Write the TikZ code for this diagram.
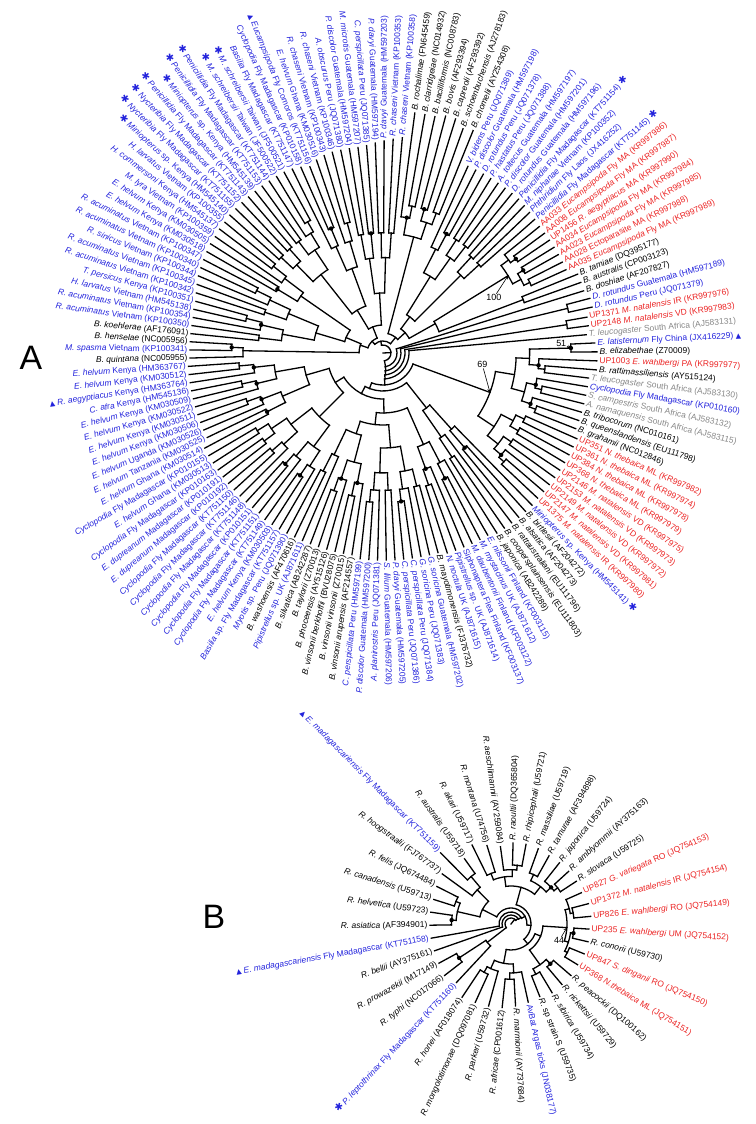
\documentclass[tikz,border=0pt]{standalone}
\usepackage{fontspec}
\setmainfont{Liberation Sans}
\newfontfamily\symf{DejaVu Sans}
\usetikzlibrary{arrows, positioning}

\definecolor{bblue}{RGB}{35,35,220}
\definecolor{bred}{RGB}{235,35,35}
\definecolor{bgrey}{RGB}{135,135,135}

\newcommand{\taxon}[1]{\textit{#1}}
\newcommand{\astr}{{\symf\fontsize{10}{10}\selectfont ✱}}
\newcommand{\trig}{{\symf\fontsize{7}{7}\selectfont ▲}}
\newcommand{\treeset}[2]{\expandafter\xdef\csname #1\endcsname{#2}}

\tikzstyle{arrow} = [semithick,->,>=stealth]

% one tip: panel, index, radius, colour, text
\newcommand{\leaf}[5]{%
  \edef\aO{\csname a0-#1\endcsname}\edef\aD{\csname da-#1\endcsname}%
  \pgfmathsetmacro{\ang}{\aO-\aD*(#2-1)}%
  \treeset{r-#1-#2}{#3}%
  \pgfmathsetmacro{\rl}{#3+2.5}%
  \pgfmathtruncatemacro{\lft}{or(\ang>90,\ang<-90)}%
  \ifnum\lft=1 \pgfmathsetmacro{\rot}{\ang+180}\def\anc{east}%
  \else \let\rot\ang\def\anc{west}\fi
  \node[tip, text=#4, anchor=\anc, rotate=\rot] (#1#2) at (\ang:\rl) {#5};}

% clade over tips #2..#3, stem from radius #4 to node radius #5
\newcommand{\clade}[5]{%
  \begingroup
  \edef\pf{#1}\edef\cf{#2}\edef\cl{#3}\edef\rp{#4}\edef\rn{#5}%
  \edef\aO{\csname a0-\pf\endcsname}\edef\aD{\csname da-\pf\endcsname}%
  \edef\aC{\csname cap-\pf\endcsname}%
  \pgfmathsetmacro{\am}{\aO-\aD*((\cf+\cl)/2-1)}%
  \ifnum\cf=\cl\relax
    \edef\rt{\csname r-\pf-\cf\endcsname}%
    \draw[branch] (\am:\rp) -- (\am:\rt);%
  \else
    \draw[branch] (\am:\rp) -- (\am:\rn);%
    \ifcsname s-\pf-\cf-\cl\endcsname
      \edef\cs{\csname s-\pf-\cf-\cl\endcsname}%
    \else
      \pgfmathtruncatemacro{\cs}{(\cf+\cl-1)/2}%
    \fi
    \pgfmathtruncatemacro{\cn}{\cs+1}%
    \pgfmathsetmacro{\al}{\aO-\aD*((\cf+\cs)/2-1)}%
    \pgfmathsetmacro{\ar}{\aO-\aD*((\cn+\cl)/2-1)}%
    \draw[branch] (\al:\rn) arc[start angle=\al, end angle=\ar, radius=\rn];%
    \pgfmathtruncatemacro{\sz}{\cl-\cf}%
    \ifnum\sz<3 \ifcsname d-\pf-\cf\endcsname
      \fill (\am:\rn) circle[radius=2.2];\fi\fi
    \pgfmathsetmacro{\rd}{\rn+0.3*(\aC-\rn)}%
    \ifcsname n-\pf-\cf-\cs\endcsname\edef\rl{\csname n-\pf-\cf-\cs\endcsname}\else\edef\rl{\rd}\fi
    \ifcsname n-\pf-\cn-\cl\endcsname\edef\rr{\csname n-\pf-\cn-\cl\endcsname}\else\edef\rr{\rd}\fi
    \clade{\pf}{\cf}{\cs}{\rn}{\rl}%
    \clade{\pf}{\cn}{\cl}{\rn}{\rr}%
  \fi
  \endgroup}

% tree layout: start angle, angle step, radius cap, splits, node radii, dots
\foreach \k/\v in {%
a0-A/181.5,da-A/2.416,cap-A/178,a0-B/227,da-B/9.23,cap-B/70,%
s-A-1-149/68,n-A-1-68/12,n-A-69-149/14,%
s-A-69-149/69,n-A-70-149/18,%
s-A-70-149/71,n-A-70-71/190,n-A-72-149/22,%
s-A-72-149/73,n-A-72-73/186,n-A-74-149/26,%
s-A-74-149/74,n-A-75-149/32,%
s-A-75-149/94,n-A-75-94/114,n-A-95-149/38,%
s-A-75-94/85,n-A-75-76/188,%
s-A-95-149/100,n-A-95-100/70,n-A-101-149/46,%
s-A-101-149/125,n-A-101-125/60,n-A-126-149/56,%
s-A-101-125/106,n-A-101-106/100,n-A-107-125/72,%
s-A-107-125/116,n-A-107-116/95,n-A-117-125/85,%
s-A-117-125/122,%
s-A-126-149/138,n-A-126-138/90,n-A-139-149/80,%
s-A-1-68/41,n-A-1-41/16,n-A-42-68/20,%
s-A-42-68/48,n-A-42-48/120,n-A-49-68/30,%
s-A-49-68/59,n-A-49-59/45,n-A-60-68/60,%
s-A-49-59/55,n-A-49-55/90,n-A-56-59/110,%
s-A-60-68/66,n-A-60-66/147,n-A-67-68/150,%
s-A-1-41/18,n-A-1-18/24,n-A-19-41/28,%
s-A-1-18/3,n-A-1-3/140,n-A-4-18/40,%
s-A-4-18/13,n-A-4-13/70,n-A-14-18/100,%
s-A-19-41/33,n-A-19-33/50,n-A-34-41/60,%
s-A-19-33/27,n-A-19-27/100,n-A-28-33/90,%
s-B-1-39/3,n-B-1-3/30,n-B-4-39/9,%
s-B-1-3/1,n-B-2-3/62,%
s-B-4-39/4,n-B-5-39/12,%
s-B-5-39/5,n-B-6-39/16,%
s-B-6-39/12,n-B-6-12/32,n-B-13-39/20,%
s-B-6-12/9,n-B-6-9/55,n-B-10-12/48,%
s-B-10-12/10,n-B-11-12/62,%
s-B-13-39/22,n-B-13-22/38,n-B-23-39/26,%
s-B-23-39/33,n-B-23-33/32,n-B-34-39/40,%
s-B-23-33/29,n-B-23-29/56,n-B-30-33/50,%
d-A-2/1,d-A-6/1,d-A-10/1,d-A-14/1,d-A-20/1,d-A-22/1,d-A-24/1,d-A-27/1,%
d-A-29/1,d-A-33/1,d-A-36/1,d-A-39/1,d-A-42/1,d-A-45/1,d-A-50/1,d-A-53/1,%
d-A-57/1,d-A-61/1,d-A-63/1,d-A-75/1,d-A-77/1,d-A-80/1,d-A-83/1,d-A-87/1,%
d-A-89/1,d-A-92/1,d-A-96/1,d-A-102/1,d-A-104/1,d-A-108/1,d-A-110/1,%
d-A-113/1,d-A-117/1,d-A-120/1,d-A-127/1,d-A-130/1,d-A-134/1,d-A-139/1,%
d-A-141/1,d-A-144/1,d-A-147/1,%
d-B-2/1,d-B-6/1,d-B-20/1,d-B-26/1,d-B-30/1%
}{\treeset{\k}{\v}}

\begin{document}
\begin{tikzpicture}[
        x=1bp, y=1bp,
        branch/.style={line width=1.3bp, line cap=rect},
        tip/.style={font=\fontsize{8.5}{9}\selectfont, inner sep=0pt},
        num/.style={font=\fontsize{9}{10}\selectfont, inner sep=0.5pt},
        panel/.style={font=\fontsize{34}{34}\selectfont, inner sep=0pt}
    ]
    \useasboundingbox (0,0) rectangle (756,1124);

    % panel A
    \begin{scope}[shift={(383,771)}]
        \foreach \rad/\col/\txt [count=\i] in {
            193/black/{\taxon{B. quintana} (NC005955)},
            193/bblue/{\taxon{M. spasma} Vietnam (KP100341)},
            193/black/{\taxon{B. henselae} (NC005956)},
            193/black/{\taxon{B. koehlerae} (AF176091)},
            193/bblue/{\taxon{R. acuminatus} Vietnam (KP100350)},
            193/bblue/{\taxon{R. acuminatus} Vietnam (KP100354)},
            194/bblue/{\taxon{H. larvatus} Vietnam (HM545138)},
            194/bblue/{\taxon{T. persicus} Kenya (KP100351)},
            196/bblue/{\taxon{R. acuminatus} Vietnam (KP100342)},
            198/bblue/{\taxon{R. acuminatus} Vietnam (KP100345)},
            200/bblue/{\taxon{R. sinicus} Vietnam (KP100344)},
            201/bblue/{\taxon{R. acuminatus} Vietnam (KP100340)},
            202/bblue/{\taxon{R. acuminatus} Vietnam (KP100347)},
            203/bblue/{\taxon{E. helvum} Kenya (KM030518)},
            204/bblue/{\taxon{E. helvum} Kenya (KM030505)},
            204/bblue/{\taxon{M. lyra} Vietnam (KP100359)},
            205/bblue/{\taxon{H. commersoni} Kenya (HM545137)},
            205/bblue/{\taxon{H. larvatus} Vietnam (KP100355)},
            206/bblue/{\astr\ \taxon{Miniopterus} sp. Kenya (HM545140)},
            206/bblue/{\astr\ \taxon{Nycteribia} Fly Madagascar (KT751155)},
            206/bblue/{\astr\ \taxon{Nycteribia} Fly Madagascar (KT751152)},
            206/bblue/{\astr\ \taxon{Penicillidia} Fly Madagascar (KT751143)},
            206/bblue/{\astr\ \taxon{Miniopterus} sp. Kenya (HM545139)},
            206/bblue/{\astr\ \taxon{Penicillidia} Fly Madagascar (KT751153)},
            206/bblue/{\astr\ \taxon{Penicillidia} Fly Madagascar (KT751144)},
            206/bblue/{\astr\ \taxon{M. schreibersii} Taiwan (JF500522)},
            206/bblue/{\astr\ \taxon{M. schreibersii} Taiwan (JF500521)},
            205/bblue/{\taxon{Basilia} Fly Madagascar (KT751147)},
            203/bblue/{\taxon{Cyclopodia} Fly Madagascar (KP010158)},
            200/bblue/{\trig\ \taxon{Eucampsipoda} Fly Comoros (KT751156)},
            204/bblue/{\taxon{E. helvum} Ghana (KM030516)},
            206/bblue/{\taxon{R. chaseni} Vietnam (KP100343)},
            207/bblue/{\taxon{R. chaseni} Vietnam (KP100346)},
            207/bblue/{\taxon{A. obscurus} Peru (JQ071380)},
            207/bblue/{\taxon{P. discolor} Guatemala (HM597204)},
            207/bblue/{\taxon{M. microtis} Guatemala (HM597207)},
            208/bblue/{\taxon{C. perspicillata} Peru (JQ071385)},
            210/bblue/{\taxon{P. davyi} Guatemala (HM597194)},
            212/bblue/{\taxon{P. davyi} Guatemala (HM597203)},
            214/bblue/{\taxon{R. chaseni} Vietnam (KP100353)},
            216/bblue/{\taxon{R. chaseni} Vietnam (KP100358)},
            242/black/{\taxon{B. rochalimae} (FN645459)},
            242/black/{\taxon{B. clarridgeiae} (NC014932)},
            242/black/{\taxon{B. bacilliformis} (NC008783)},
            245/black/{\taxon{B. bovis} (AF293394)},
            245/black/{\taxon{B. capreoli} (AF293392)},
            238/black/{\taxon{B. schoenbuchensis} (AJ278183)},
            240/black/{\taxon{B. chomelii} (AY254308)},
            205/bblue/{\taxon{V. bidens} Peru (JQ071389)},
            205/bblue/{\taxon{P. discolor} Guatemala (HM597198)},
            205/bblue/{\taxon{D. rotundus} Peru (JQ071378)},
            205/bblue/{\taxon{P. hastatus} Peru (JQ071388)},
            205/bblue/{\taxon{A. toltecus} Guatemala (HM597197)},
            205/bblue/{\taxon{P. discolor} Guatemala (HM597201)},
            205/bblue/{\taxon{D. rotundus} Guatemala (HM597196)},
            205/bblue/{\taxon{Penicillidia} Fly Madagascar (KT751154) \astr},
            204/bblue/{\taxon{M. niphanae} Vietnam (KP100352)},
            203/bblue/{\taxon{Phthiridium} Fly Laos (JX416252)},
            202/bblue/{\taxon{Penicillidia} Fly Madagascar (KT751145) \astr},
            201/bred/{AA033 \taxon{Eucampsipoda} Fly MA (KR997986)},
            201/bred/{AA008 \taxon{Eucampsipoda} Fly MA (KR997987)},
            201/bred/{UP1456 \taxon{R. aegyptiacus} MA (KR997990)},
            201/bred/{AA034 \taxon{Eucampsipoda} Fly MA (KR997984)},
            201/bred/{AA023 \taxon{Eucampsipoda} Fly MA (KR997985)},
            201/bred/{AA028 Ectoparasite MA (KR997988)},
            201/bred/{AA035 \taxon{Eucampsipoda} Fly MA (KR997989)},
            210/black/{\taxon{B. tamiae} (DQ395177)},
            210/black/{\taxon{B. australis} (CP003123)},
            210/black/{\taxon{B. doshiae} (AF207827)},
            214/bblue/{\taxon{D. rotundus} Guatemala (HM597189)},
            214/bblue/{\taxon{D. rotundus} Peru (JQ071379)},
            207/bred/{UP1371 \taxon{M. natalensis} IR (KR997976)},
            207/bred/{UP2148 \taxon{M. natalensis} VD (KR997983)},
            204/bgrey/{\taxon{T. leucogaster} South Africa (AJ583131)},
            212/bblue/{\taxon{E. latisternum} Fly China (JX416229) \trig},
            214/black/{\taxon{B. elizabethae} (Z70009)},
            214/bred/{UP1003 \taxon{E. wahlbergi} PA (KR997977)},
            214/black/{\taxon{B. rattimassiliensis} (AY515124)},
            207/bgrey/{\taxon{T. leucogaster} South Africa (AJ583130)},
            207/bblue/{\taxon{Cyclopodia} Fly Madagascar (KP010160)},
            207/bgrey/{\taxon{S. campestris} South Africa (AJ583132)},
            207/bgrey/{\taxon{A. namaquensis} South Africa (AJ583115)},
            207/black/{\taxon{B. tribocorum} (NC010161)},
            207/black/{\taxon{B. queenslandensis} (EU111798)},
            207/black/{\taxon{B. grahamii} (NC012846)},
            212/bred/{UP351 \taxon{N. thebaica} ML (KR997982)},
            212/bred/{UP361 \taxon{N. thebaica} ML (KR997974)},
            212/bred/{UP384 \taxon{N. thebaica} ML (KR997978)},
            212/bred/{UP368 \taxon{N. thebaica} ML (KR997979)},
            212/bred/{UP2146 \taxon{M. natalensis} VD (KR997975)},
            212/bred/{UP2153 \taxon{M. natalensis} VD (KR997973)},
            212/bred/{UP2149 \taxon{M. natalensis} VD (KR997972)},
            212/bred/{UP2147 \taxon{M. natalensis} VD (KR997981)},
            212/bred/{UP1375 \taxon{M. natalensis} IR (KR997980)},
            213/bblue/{\taxon{Miniopterus} sp. Kenya (HM545141) \astr},
            213/black/{\taxon{B. birtlesii} (AF204272)},
            213/black/{\taxon{B. alsatica} (AF204273)},
            213/black/{\taxon{B. rattaustraliani} (EU111796)},
            213/black/{\taxon{B. coopersplainsensis} (EU111803)},
            213/black/{\taxon{B. japonica} (AB242289)},
            210/bblue/{\taxon{E. nilssonii} Finland (KF003115)},
            210/bblue/{\taxon{M. mystacinus} UK (AJ871612)},
            210/bblue/{\taxon{M. daubentonii} Finland (KF003122)},
            210/bblue/{Siphonaptera Flea Finland (KF003137)},
            210/bblue/{\taxon{Pipistrellus} sp. UK (AJ871614)},
            210/bblue/{\taxon{N. noctula} UK (AJ871615)},
            207/black/{\taxon{B. mayotimonensis} (FJ376732)},
            207/bblue/{\taxon{G. soricina} Guatemala (HM597202)},
            207/bblue/{\taxon{G. soricina} Peru (JQ071383)},
            207/bblue/{\taxon{C. perspicillata} Peru (JQ071384)},
            207/bblue/{\taxon{C. perspicillata} Peru (JQ071386)},
            207/bblue/{\taxon{P. davyi} Guatemala (HM597205)},
            207/bblue/{\taxon{S. lilium} Guatemala (HM597206)},
            207/bblue/{\taxon{A. planirostris} Peru (JQ071381)},
            207/bblue/{\taxon{P. discolor} Guatemala (HM597200)},
            207/bblue/{\taxon{C. perspicillata} Peru (HM597199)},
            204/black/{\taxon{B. vinsonii arupensis} (AF214557)},
            204/black/{\taxon{B. vinsonii vinsonii} (Z70015)},
            204/black/{\taxon{B. vinsonii berkhoffii} (BVU28075)},
            204/black/{\taxon{B. phoceensis} (AY515126)},
            204/black/{\taxon{B. taylorii} (Z70013)},
            204/black/{\taxon{B. silvatica} (AB242287)},
            204/bblue/{\taxon{Pipistrellus} sp. UK (AJ871611)},
            204/black/{\taxon{B. washoensis} (AF470616)},
            204/bblue/{\taxon{Myotis} sp. Peru (JQ071390)},
            204/bblue/{\taxon{Basilia} sp. Fly Madagascar (KT751157)},
            204/bblue/{\taxon{E. helvum} Kenya (KM030503)},
            204/bblue/{\taxon{Cyclopodia} Fly Madagascar (KT751149)},
            202/bblue/{\taxon{Cyclopodia} Fly Madagascar (KT751151)},
            202/bblue/{\taxon{Cyclopodia} Fly Madagascar (KP010151)},
            202/bblue/{\taxon{Cyclopodia} Fly Madagascar (KT751148)},
            202/bblue/{\taxon{Cyclopodia} Fly Madagascar (KT751146)},
            202/bblue/{\taxon{Cyclopodia} Fly Madagascar (KT751150)},
            202/bblue/{\taxon{E. dupreanum} Madagascar (KP010192)},
            202/bblue/{\taxon{E. dupreanum} Madagascar (KP010191)},
            202/bblue/{\taxon{Cyclopodia} Fly Madagascar (KP010163)},
            202/bblue/{\taxon{E. helvum} Ghana (KM030513)},
            202/bblue/{\taxon{Cyclopodia} Fly Madagascar (KP010155)},
            202/bblue/{\taxon{E. helvum} Ghana (KM030514)},
            195/bblue/{\taxon{E. helvum} Tanzania (KM030525)},
            195/bblue/{\taxon{E. helvum} Uganda (KM030526)},
            195/bblue/{\taxon{E. helvum} Kenya (KM030506)},
            195/bblue/{\taxon{E. helvum} Kenya (KM030511)},
            195/bblue/{\taxon{E. helvum} Kenya (KM030522)},
            195/bblue/{\taxon{E. helvum} Kenya (KM030509)},
            195/bblue/{\taxon{C. afra} Kenya (HM545136)},
            195/bblue/{\trig\ \taxon{R. aegyptiacus} Kenya (HM363764)},
            195/bblue/{\taxon{E. helvum} Kenya (KM030512)},
            195/bblue/{\taxon{E. helvum} Kenya (HM363767)}
        }{\leaf{A}{\i}{\rad}{\col}{\txt}}

        \clade{A}{1}{149}{0}{8}

        \coordinate (n100) at ({181.5-2.416*62}:147);
        \coordinate (n69) at ({181.5-2.416*83.5}:114);
        \coordinate (n51) at ({181.5-2.416*74.5}:188);
        \node[num, below left=18bp and 6bp of n100] (l100) {100};
        \node[num, above left=24bp and 2bp of n69] (l69) {69};
        \node[num, above left=1bp and 4bp of n51] (l51) {51};
        \draw[arrow] (l100) -- (n100);
        \draw[arrow] (l69) -- (n69);
        \draw[arrow] (l51) -- (n51);
    \end{scope}

    % panel B
    \begin{scope}[shift={(511,200)}]
        \foreach \rad/\col/\txt [count=\i] in {
            80/bblue/{\astr\ \taxon{P. leptothrinax} Fly Madagascar (KT751160)},
            84/black/{\taxon{R. typhi} (NC017066)},
            82/black/{\taxon{R. prowazekii} (M17149)},
            81/black/{\taxon{R. bellii} (AY375161)},
            81/bblue/{\trig\ \taxon{E. madagascariensis} Fly Madagascar (KT751158)},
            81/black/{\taxon{R. asiatica} (AF394901)},
            81/black/{\taxon{R. helvetica} (U59723)},
            81/black/{\taxon{R. canadensis} (U59713)},
            83/black/{\taxon{R. felis} (JQ674484)},
            85/black/{\taxon{R. hoogstraalii} (FJ767737)},
            100/bblue/{\trig\ \taxon{E. madagascariensis} Fly Madagascar (KT751159)},
            80/black/{\taxon{R. australis} (U59718)},
            88/black/{\taxon{R. akari} (U59717)},
            82/black/{\taxon{R. montana} (U74756)},
            78/black/{\taxon{R. aeschlimannii} (AY259084)},
            81/black/{\taxon{R. raoultii} (DQ365804)},
            81/black/{\taxon{R. rhipicephali} (U59721)},
            80/black/{\taxon{R. massiliae} (U59719)},
            78/black/{\taxon{R. tamurae} (AF394898)},
            78/black/{\taxon{R. japonica} (U59724)},
            78/black/{\taxon{R. amblyommii} (AY375163)},
            78/black/{\taxon{R. slovaca} (U59725)},
            77/bred/{UP827 \taxon{G. variegata} RO (JQ754153)},
            80/bred/{UP1372 \taxon{M. natalensis} IR (JQ754154)},
            80/bred/{UP826 \taxon{E. wahlbergi} RO (JQ754149)},
            78/bred/{UP235 \taxon{E. wahlbergi} UM (JQ754152)},
            79/black/{\taxon{R. conorii} (U59730)},
            79/bred/{UP847 \taxon{S. dinganii} RO (JQ754150)},
            78/bred/{UP368 \taxon{N.thebaica} ML (JQ754151)},
            79/black/{\taxon{R. peacockii} (DQ100162)},
            79/black/{\taxon{R. rickettsii} (U59729)},
            80/black/{\taxon{R. sibirica} (U59734)},
            78/black/{\taxon{R.} sp strain S (U59735)},
            80/bblue/{AvBat Argas ticks (JN038177)},
            82/black/{\taxon{R. marmionii} (AY737684)},
            84/black/{\taxon{R. africae} (CP001612)},
            85/black/{\taxon{R. parkeri} (U59732)},
            86/black/{\taxon{R. mongolotimonae} (DQ097081)},
            88/black/{\taxon{R. honei} (AF018074)}
        }{\leaf{B}{\i}{\rad}{\col}{\txt}}

        \clade{B}{1}{39}{0}{6}

        \coordinate (n44) at ({227-9.23*25}:56);
        \node[num, below left=9bp and 2bp of n44] (l44) {44};
        \draw[arrow] (l44) -- (n44);
    \end{scope}

    \node[panel] (pA) at (31,766) {A};
    \node[panel] (pB) at (214,207) {B};

\end{tikzpicture}
\end{document}
